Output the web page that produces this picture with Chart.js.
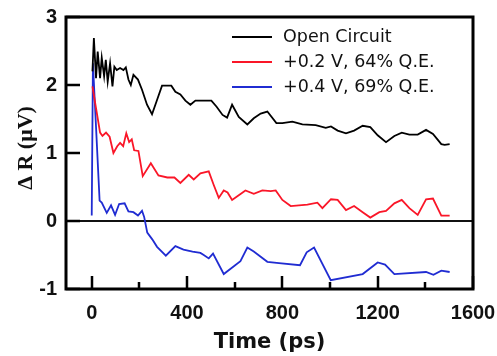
<!DOCTYPE html>
<html>
<head>
<meta charset="utf-8">
<script src="https://cdn.jsdelivr.net/npm/chart.js@4/dist/chart.umd.min.js"></script>
<style>
  html, body { margin: 0; padding: 0; background: #fff; overflow: hidden; }
  canvas { display: block; }
</style>
</head>
<body>
<canvas id="c" width="497" height="356"></canvas>
<script>
// Open circuit trace
const openTime = [3, 9, 18, 25, 35, 42, 52, 59, 67, 77, 87, 95, 105, 119, 133, 143, 154, 164, 175, 194,
  211, 232, 253, 274, 295, 334, 351, 372, 393, 414, 435, 469, 502, 524, 549, 568, 589, 617, 653, 680,
  709, 737, 775, 800, 842, 884, 940, 982, 1004, 1032, 1067, 1101, 1137, 1169, 1200, 1235, 1270, 1301, 1333, 1368,
  1403, 1432, 1467, 1481, 1502];
const openDR = [2.2, 2.69, 2.1, 2.49, 2.1, 2.4, 2.13, 2.37, 2.05, 2.32, 1.98, 2.27, 2.22, 2.25, 2.22, 2.26, 2.08, 2.0, 2.15, 2.08,
  1.93, 1.71, 1.57, 1.78, 1.99, 1.99, 1.90, 1.86, 1.77, 1.71, 1.77, 1.77, 1.77, 1.68, 1.56, 1.52, 1.71, 1.53, 1.42, 1.51,
  1.58, 1.61, 1.44, 1.44, 1.46, 1.42, 1.41, 1.37, 1.39, 1.33, 1.29, 1.33, 1.40, 1.38, 1.26, 1.16, 1.25, 1.30, 1.27, 1.27,
  1.34, 1.28, 1.13, 1.12, 1.13];

// +0.2 V bias trace
const lowBiasTime = [3, 18, 35, 45, 60, 75, 91, 107, 119, 132, 145, 157, 168, 178, 196, 214, 248, 280, 317, 347,
  372, 407, 428, 456, 491, 512, 533, 554, 570, 589, 617, 645, 680, 716, 751, 772, 800, 835, 905, 947,
  968, 1004, 1032, 1067, 1101, 1137, 1169, 1207, 1235, 1270, 1301, 1333, 1368, 1403, 1432, 1467, 1502];
const lowBiasDR = [1.98, 1.66, 1.3, 1.25, 1.3, 1.24, 1.0, 1.1, 1.15, 1.1, 1.29, 1.16, 1.2, 1.04, 1.03, 0.66, 0.85, 0.67, 0.64, 0.64,
  0.56, 0.68, 0.61, 0.70, 0.73, 0.53, 0.34, 0.45, 0.42, 0.31, 0.38, 0.45, 0.40, 0.45, 0.44, 0.45, 0.31, 0.22, 0.24, 0.27,
  0.19, 0.32, 0.31, 0.16, 0.22, 0.13, 0.05, 0.13, 0.15, 0.26, 0.31, 0.19, 0.09, 0.32, 0.33, 0.08, 0.08];

// +0.4 V bias trace
const highBiasTime = [0, 5, 33, 42, 63, 81, 98, 115, 138, 154, 175, 194, 211, 220, 233, 254, 274, 311, 351, 385,
  423, 456, 470, 491, 509, 554, 624, 653, 680, 737, 786, 874, 902, 933, 1003, 1137, 1200, 1231, 1270, 1403,
  1434, 1467, 1502];
const highBiasDR = [0.08, 2.32, 0.3, 0.27, 0.12, 0.23, 0.09, 0.25, 0.26, 0.14, 0.13, 0.08, 0.15, 0.06, -0.17, -0.27, -0.38, -0.51, -0.37, -0.42,
  -0.45, -0.47, -0.50, -0.55, -0.48, -0.78, -0.59, -0.39, -0.45, -0.60, -0.62, -0.65, -0.46, -0.39, -0.87, -0.78, -0.61, -0.64, -0.78, -0.75,
  -0.79, -0.73, -0.75];

const seriesLabels = ['Open Circuit', '+0.2 V, 64% Q.E.', '+0.4 V, 69% Q.E.'];
const seriesColors = ['#000000', 'rgb(250,22,40)', 'rgb(32,44,210)'];

const xTicks = [0, 400, 800, 1200, 1600];
const xMinorTicks = [200, 600, 1000, 1400];
const yTicks = [-1, 0, 1, 2, 3];

const toPoints = (t, v) => t.map((x, i) => ({ x: x, y: v[i] }));

// Zero line beneath the traces
const underlay = {
  id: 'underlay',
  beforeDatasetsDraw(chart) {
    const { ctx, chartArea: a, scales } = chart;
    const y0 = Math.round(scales.y.getPixelForValue(0));
    ctx.save();
    ctx.fillStyle = '#111111';
    ctx.fillRect(Math.round(a.left), y0 - 1, Math.round(a.right - a.left), 2);
    ctx.restore();
  }
};

// Frame, inward tick marks, in-plot legend and axis titles
const overlay = {
  id: 'overlay',
  afterDraw(chart) {
    const { ctx, chartArea: a, scales } = chart;
    const x = scales.x, y = scales.y;
    const L = Math.round(a.left), R = Math.round(a.right);
    const T = Math.round(a.top), B = Math.round(a.bottom);
    ctx.save();
    ctx.globalAlpha = 1;
    ctx.globalCompositeOperation = 'source-over';
    ctx.setLineDash([]);
    ctx.strokeStyle = '#000000';
    ctx.lineCap = 'butt';

    ctx.lineWidth = 3;
    ctx.beginPath();
    ctx.moveTo(L, T); ctx.lineTo(R, T); ctx.lineTo(R, B); ctx.lineTo(L, B); ctx.closePath();
    ctx.stroke();

    ctx.lineWidth = 2.5;
    ctx.beginPath();
    xTicks.forEach(v => {
      const px = Math.round(x.getPixelForValue(v));
      ctx.moveTo(px, B); ctx.lineTo(px, B - 13);
    });
    xMinorTicks.forEach(v => {
      const px = Math.round(x.getPixelForValue(v));
      ctx.moveTo(px, B); ctx.lineTo(px, B - 7);
    });
    yTicks.forEach(v => {
      const py = Math.round(y.getPixelForValue(v));
      ctx.moveTo(L, py); ctx.lineTo(L + 14, py);
    });
    ctx.stroke();

    ctx.font = '17.5px "DejaVu Sans"';
    ctx.textBaseline = 'middle';
    ctx.textAlign = 'left';
    chart.data.datasets.forEach((ds, i) => {
      const ly = T + 20 + i * 25;
      ctx.fillStyle = ds.borderColor;
      ctx.fillRect(R - 241, ly - 1, 40, 2);
      ctx.fillStyle = '#111';
      ctx.fillText(ds.label, R - 190, ly);
    });

    ctx.fillStyle = '#111';
    ctx.textAlign = 'center';
    ctx.textBaseline = 'alphabetic';
    ctx.font = 'bold 21px "DejaVu Sans"';
    ctx.fillText('Time (ps)', (a.left + a.right) / 2, 348);

    ctx.translate(26, 148);
    ctx.rotate(-Math.PI / 2);
    ctx.textBaseline = 'middle';
    ctx.font = 'bold 22px "Liberation Serif"';
    ctx.fillText('\u0394 R (\u03bcV)', 0, 0);
    ctx.restore();
  }
};

const tickFont = { family: '"Liberation Sans", Arial, sans-serif', size: 20, weight: 'bold' };
const noPad = s => { s.paddingLeft = 0; s.paddingRight = 0; s.paddingTop = 0; s.paddingBottom = 0; };

new Chart(document.getElementById('c'), {
  type: 'line',
  data: {
    datasets: [
      { label: seriesLabels[0], data: toPoints(openTime, openDR), borderColor: seriesColors[0] },
      { label: seriesLabels[1], data: toPoints(lowBiasTime, lowBiasDR), borderColor: seriesColors[1] },
      { label: seriesLabels[2], data: toPoints(highBiasTime, highBiasDR), borderColor: seriesColors[2] }
    ]
  },
  options: {
    responsive: false,
    animation: false,
    devicePixelRatio: 1,
    layout: { padding: { top: 17, right: 24, left: 0, bottom: 0 } },
    elements: {
      line: { borderWidth: 1.8, tension: 0, fill: false },
      point: { radius: 0, hoverRadius: 0 }
    },
    plugins: { legend: { display: false }, tooltip: { enabled: false } },
    scales: {
      x: {
        type: 'linear',
        position: 'bottom',
        min: -108,
        max: 1600,
        afterBuildTicks: s => { s.ticks = xTicks.map(v => ({ value: v })); },
        afterFit: s => { s.height = 67; noPad(s); },
        grid: { display: false, drawTicks: false },
        border: { display: false },
        ticks: { font: tickFont, color: '#111', padding: 12, maxRotation: 0, autoSkip: false,
                 callback: v => String(v) }
      },
      y: {
        type: 'linear',
        position: 'left',
        min: -1,
        max: 3,
        afterBuildTicks: s => { s.ticks = yTicks.map(v => ({ value: v })); },
        afterFit: s => { s.width = 66; noPad(s); },
        grid: { display: false, drawTicks: false },
        border: { display: false },
        ticks: { font: tickFont, color: '#111', padding: 9, autoSkip: false,
                 callback: v => String(v) }
      }
    }
  },
  plugins: [underlay, overlay]
});
</script>
</body>
</html>
